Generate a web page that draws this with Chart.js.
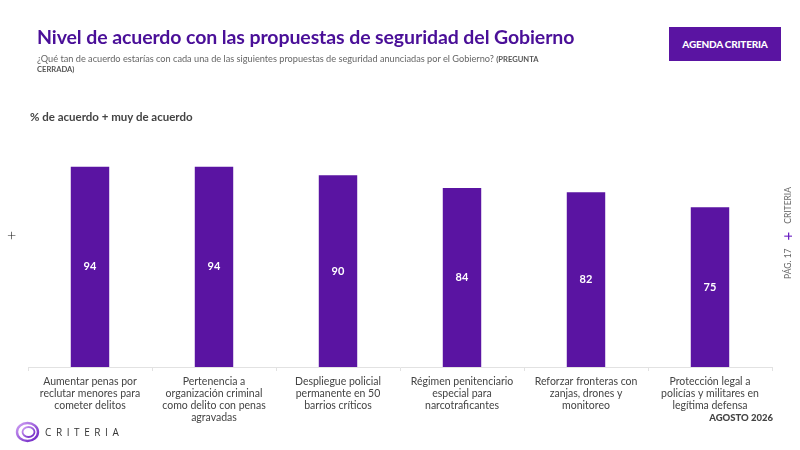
<!DOCTYPE html>
<html>
<head>
<meta charset="utf-8">
<script src="https://cdn.jsdelivr.net/npm/chart.js@4"></script>
<style>
  body { margin: 0; background: #fff; font-family: Lato, "Open Sans", sans-serif; }
  #wrap { position: relative; width: 800px; height: 450px; overflow: hidden; }
  canvas { position: absolute; left: 0; top: 0; }
  .title { position: absolute; left: 37px; top: 25px; font-size: 19.5px; font-weight: 700; color: #4a0f98; letter-spacing: -0.1px; }
  .sub { position: absolute; left: 37px; top: 54px; width: 525px; font-size: 9.2px; line-height: 9px; color: #666; }
  .sub b { color: #555; font-size: 7.6px; }
  .badge { position: absolute; left: 669px; top: 27px; width: 112px; height: 34px; background: #5a14a2; color: #fff; font-weight: 900; font-size: 10px; display: flex; align-items: center; justify-content: center; letter-spacing: -0.2px; }
  .ylab { position: absolute; left: 30px; top: 110px; font-size: 11.5px; font-weight: 700; color: #444; }
  .plus { position: absolute; left: 7px; top: 225px; font-size: 16px; color: #222; font-weight: 300; }
  .side { position: absolute; left: 787px; top: 233px; transform: translate(-50%, -50%) rotate(-90deg); white-space: nowrap; font-size: 8.5px; color: #666; }
  .side span { color: #6a1fc2; font-size: 15px; margin: 0 8px; vertical-align: -2px; }
  .date { position: absolute; right: 27px; top: 412px; font-size: 9.5px; font-weight: 900; color: #444; }
  .logo { position: absolute; left: 15px; top: 421px; display: flex; align-items: center; }
  .logo span { margin-left: 5px; font-size: 10px; letter-spacing: 4.6px; color: #333; font-family: "Open Sans", sans-serif; }
</style>
</head>
<body>
<div id="wrap">
  <canvas id="chart" width="800" height="450"></canvas>
  <div class="title">Nivel de acuerdo con las propuestas de seguridad del Gobierno</div>
  <div class="sub">¿Qué tan de acuerdo estarías con cada una de las siguientes propuestas de seguridad anunciadas por el Gobierno? <b>(PREGUNTA CERRADA)</b></div>
  <div class="badge">AGENDA CRITERIA</div>
  <div class="ylab">% de acuerdo + muy de acuerdo</div>
  <div class="plus">+</div>
  <div class="side">PÁG. 17<span>+</span>CRITERIA</div>
  <div class="date">AGOSTO 2026</div>
  <div class="logo">
    <svg width="25" height="22" viewBox="0 0 25 22">
      <defs>
        <linearGradient id="g" x1="0" y1="0" x2="1" y2="1">
          <stop offset="0" stop-color="#d0a0f4"/>
          <stop offset="1" stop-color="#6a1fc2"/>
        </linearGradient>
      </defs>
      <ellipse cx="12.5" cy="11" rx="10.5" ry="9" fill="none" stroke="url(#g)" stroke-width="2.4"/>
      <ellipse cx="13.5" cy="11" rx="6" ry="5" fill="none" stroke="url(#g)" stroke-width="1.8"/>
    </svg>
    <span>CRITERIA</span>
  </div>
</div>
<script>
const categories = [
  ['Aumentar penas por', 'reclutar menores para', 'cometer delitos'],
  ['Pertenencia a', 'organización criminal', 'como delito con penas', 'agravadas'],
  ['Despliegue policial', 'permanente en 50', 'barrios críticos'],
  ['Régimen penitenciario', 'especial para', 'narcotraficantes'],
  ['Reforzar fronteras con', 'zanjas, drones y', 'monitoreo'],
  ['Protección legal a', 'policías y militares en', 'legítima defensa']
];
const acuerdo = [94, 94, 90, 84, 82, 75];

const barLabels = {
  id: 'barLabels',
  afterDatasetsDraw(chart) {
    const ctx = chart.ctx;
    const meta = chart.getDatasetMeta(0);
    ctx.save();
    ctx.fillStyle = '#fff';
    ctx.font = 'bold 11px Lato, sans-serif';
    ctx.textAlign = 'center';
    ctx.textBaseline = 'middle';
    meta.data.forEach((bar, i) => {
      ctx.fillText(acuerdo[i], bar.x, (bar.y + bar.base) / 2);
    });
    ctx.restore();
  }
};

new Chart(document.getElementById('chart'), {
  type: 'bar',
  data: {
    labels: categories,
    datasets: [{
      data: acuerdo,
      backgroundColor: '#5a14a2',
      categoryPercentage: 1,
      barPercentage: 0.31
    }]
  },
  options: {
    responsive: false,
    animation: false,
    layout: { padding: { left: 28, right: 28, top: 154, bottom: 0 } },
    plugins: { legend: { display: false }, tooltip: { enabled: false } },
    scales: {
      y: { display: false, min: 0, max: 100 },
      x: {
        afterFit(scale) { scale.height = 83; },
        border: { color: '#e2e2e2' },
        grid: { display: true, drawOnChartArea: false, drawTicks: true, tickLength: 4, color: '#e2e2e2', offset: true },
        ticks: {
          color: '#444',
          padding: 5,
          maxRotation: 0,
          autoSkip: false,
          font: { family: 'Lato, sans-serif', size: 10.5, lineHeight: '12px' }
        }
      }
    }
  },
  plugins: [barLabels]
});
</script>
</body>
</html>
